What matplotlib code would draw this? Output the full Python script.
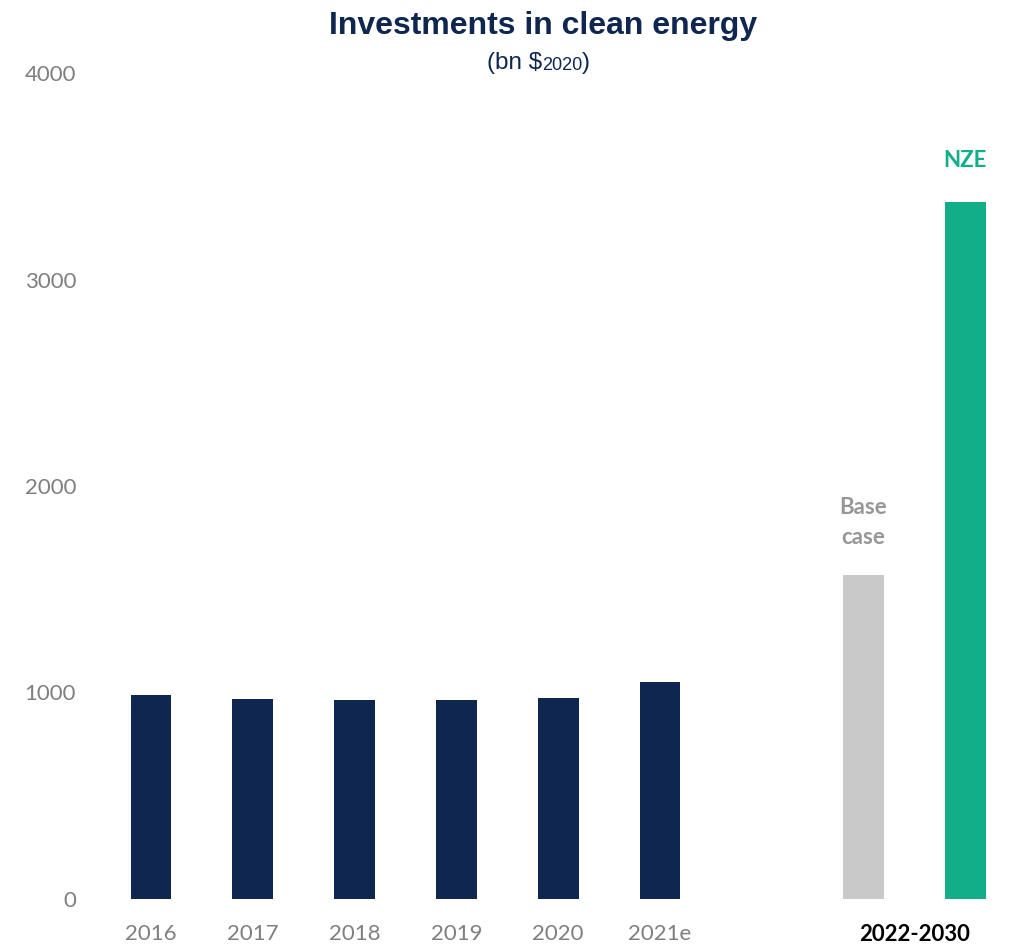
import matplotlib.pyplot as plt

# investments in clean energy, bn $2020
years = ['2016', '2017', '2018', '2019', '2020', '2021e']
historic = [986, 967, 964, 962, 973, 1051]
scenarios = ['Base\ncase', 'NZE']
scenario_values = [1569, 3375]
period_label = '2022-2030'
y_ticks = [0, 1000, 2000, 3000, 4000]

NAVY = '#0F2650'
GREY_BAR = '#C9C9C9'
TEAL = '#12AE8A'
TICK_GREY = '#7F7F7F'
LABEL_GREY = '#979797'

plt.rcParams['font.family'] = ['Lato', 'DejaVu Sans']

fig = plt.figure(figsize=(10.12, 9.46), dpi=100)
ax = fig.add_axes([90 / 1012, 47 / 946, 915 / 1012, 826 / 946])

# исторические столбцы
x_hist = list(range(len(years)))
ax.bar(x_hist, historic, width=0.4, color=NAVY)

# сценарии 2022-2030
x_sc = [len(years) + 1, len(years) + 2]
ax.bar(x_sc, scenario_values, width=0.4, color=[GREY_BAR, TEAL])

ax.text(x_sc[0], scenario_values[0] + 130, scenarios[0], ha='center', va='bottom',
        color=LABEL_GREY, fontsize=16, fontweight='bold', linespacing=1.55)
ax.text(x_sc[1], scenario_values[1] + 150, scenarios[1], ha='center', va='bottom',
        color=TEAL, fontsize=16, fontweight='bold')

ax.set_xlim(-0.6, 8.39)
ax.set_ylim(0, 4000)
ax.set_yticks(y_ticks)
ax.set_yticklabels([str(v) for v in y_ticks])
ax.set_xticks(x_hist + [7.5])
ax.set_xticklabels(years + [period_label])

ax.tick_params(axis='both', length=0, labelsize=16, labelcolor=TICK_GREY)
ax.tick_params(axis='y', pad=10)
ax.tick_params(axis='x', pad=18)
last = ax.get_xticklabels()[-1]
last.set_color('black')
last.set_fontweight('bold')

for side in ax.spines.values():
    side.set_visible(False)

# заголовок
fig.text(543 / 1012, 1 - 26 / 946, 'Investments in clean energy', ha='center', va='center',
         color=NAVY, fontsize=23, fontweight='bold', family=['Liberation Sans', 'DejaVu Sans'])
t1 = fig.text(487 / 1012, 1 - 69 / 946, r'(bn \$', ha='left', va='baseline',
              color=NAVY, fontsize=17.5, family=['Liberation Sans', 'DejaVu Sans'])
t2 = ax.annotate('2020', xy=(1, 0), xycoords=t1, ha='left', va='bottom',
                 color=NAVY, fontsize=13, family=['Liberation Sans', 'DejaVu Sans'])
ax.annotate(')', xy=(1, 0), xycoords=t2, ha='left', va='bottom',
            color=NAVY, fontsize=17.5, family=['Liberation Sans', 'DejaVu Sans'])

fig.savefig('out.png', dpi=100)
